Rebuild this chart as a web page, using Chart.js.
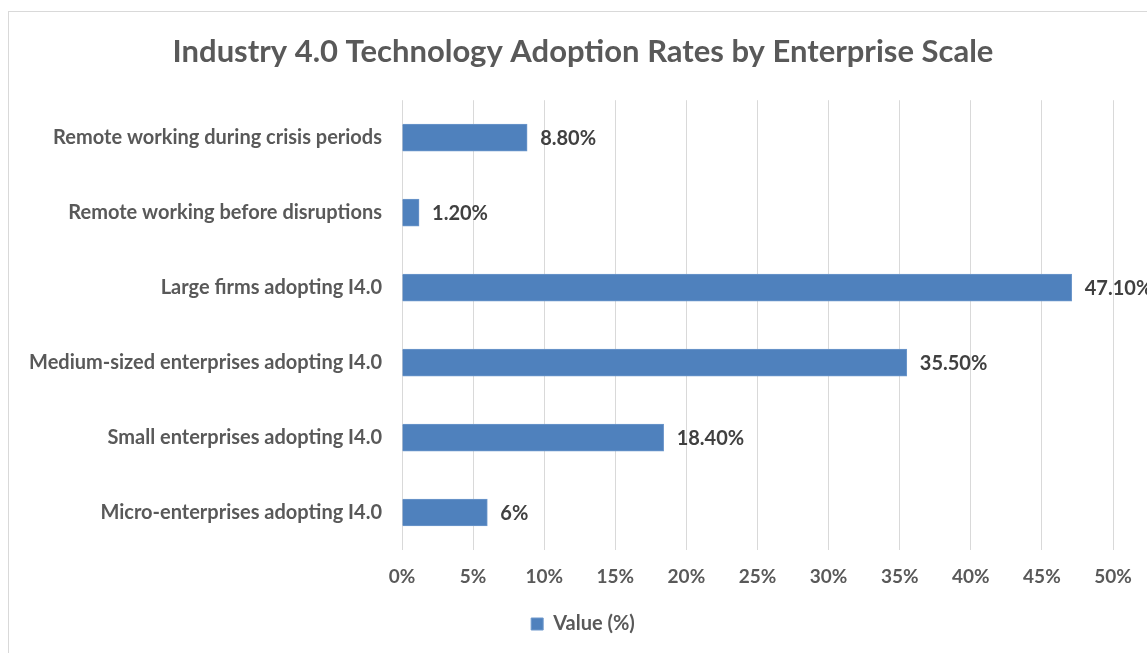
<!DOCTYPE html>
<html>
<head>
<meta charset="utf-8">
<script src="https://cdn.jsdelivr.net/npm/chart.js@4.4.1/dist/chart.umd.min.js"></script>
<style>
    html, body { margin: 0; padding: 0; background: #fff; overflow: hidden; }
    #frame { position: absolute; left: 8px; top: 11px; width: 1160px; height: 660px; border: 1px solid #d9d9d9; }
    #wrap { position: absolute; left: 0; top: 0; width: 1166px; height: 653px; }
</style>
</head>
<body>
<div id="frame"></div>
<div id="wrap"><canvas id="adoptionChart"></canvas></div>
<script>
// categories, top to bottom as in the picture
var categories = [
    'Remote working during crisis periods',
    'Remote working before disruptions',
    'Large firms adopting I4.0',
    'Medium-sized enterprises adopting I4.0',
    'Small enterprises adopting I4.0',
    'Micro-enterprises adopting I4.0'
];
var values = [8.8, 1.2, 47.1, 35.5, 18.4, 6];
var valueLabels = ['8.80%', '1.20%', '47.10%', '35.50%', '18.40%', '6%'];
var seriesName = 'Value (%)';
var xTicks = [0, 5, 10, 15, 20, 25, 30, 35, 40, 45, 50];

var fontName = 'Lato, "Open Sans", sans-serif';

// draws the value next to each bar
const barLabels = {
    id: 'barLabels',
    afterDatasetsDraw(chart) {
        const ctx = chart.ctx;
        const meta = chart.getDatasetMeta(0);
        ctx.save();
        ctx.font = 'bold 20px ' + fontName;
        ctx.fillStyle = '#404040';
        ctx.textAlign = 'left';
        ctx.textBaseline = 'middle';
        meta.data.forEach((bar, i) => {
            ctx.fillText(valueLabels[i], bar.x + 13, bar.y + 1);
        });
        ctx.restore();
    }
};

const ctx = document.getElementById('adoptionChart').getContext('2d');
new Chart(ctx, {
    type: 'bar',
    data: {
        labels: categories,
        datasets: [{
            label: seriesName,
            data: values,
            backgroundColor: '#4f81bd',
            borderColor: '#6e98cc',
            borderWidth: 1,
            barThickness: 27
        }]
    },
    options: {
        indexAxis: 'y',
        responsive: true,
        maintainAspectRatio: false,
        animation: false,
        layout: { padding: { left: 0, right: 0, top: 0, bottom: 9 } },
        plugins: {
            title: {
                display: true,
                text: 'Industry 4.0 Technology Adoption Rates by Enterprise Scale',
                color: '#595959',
                font: { family: fontName, size: 31, weight: 'bold' },
                padding: { top: 33, bottom: 30 }
            },
            legend: {
                position: 'bottom',
                labels: {
                    color: '#595959',
                    font: { family: fontName, size: 20, weight: 'bold' },
                    boxWidth: 12,
                    boxHeight: 12,
                    padding: 8
                }
            },
            tooltip: { enabled: false }
        },
        scales: {
            x: {
                min: 0,
                max: 50,
                afterBuildTicks: function(scale) {
                    scale.ticks = xTicks.map(v => ({ value: v }));
                },
                afterFit: function(scale) { scale.height = 56; },
                grid: { color: '#d9d9d9', drawTicks: false },
                border: { display: false },
                ticks: {
                    color: '#595959',
                    padding: 15,
                    font: { family: fontName, size: 19, weight: 'bold' },
                    callback: v => v + '%'
                }
            },
            y: {
                afterFit: function(scale) { scale.width = 402; },
                grid: { display: false },
                border: { display: false },
                ticks: {
                    color: '#595959',
                    padding: 12,
                    font: { family: fontName, size: 20, weight: 'bold' }
                }
            },
            // empty right-hand axis, only keeps room so the plot ends at 50%
            yRight: {
                type: 'category',
                position: 'right',
                afterFit: function(scale) { scale.width = 53; },
                grid: { display: false },
                border: { display: false },
                ticks: { display: false }
            }
        }
    },
    plugins: [barLabels]
});
</script>
</body>
</html>
